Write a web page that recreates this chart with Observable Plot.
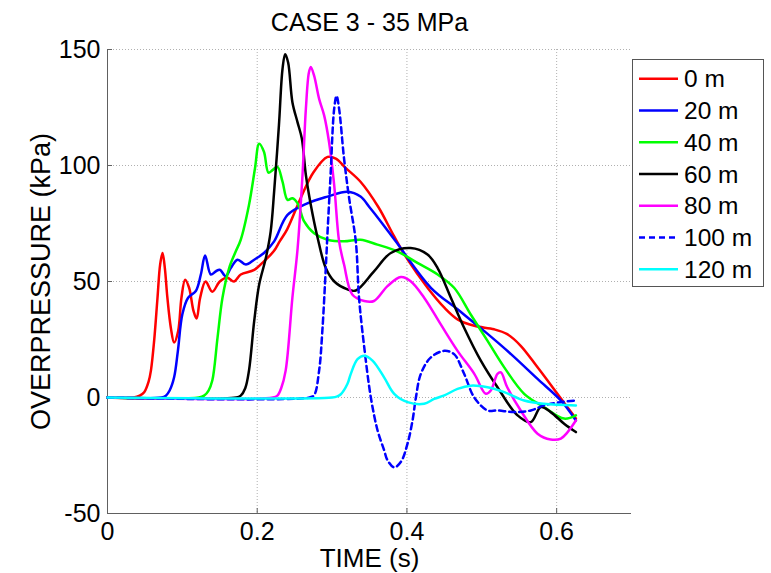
<!DOCTYPE html>
<html><head><meta charset="utf-8">
<script src="https://cdn.jsdelivr.net/npm/d3@7"></script>
<script src="https://cdn.jsdelivr.net/npm/@observablehq/plot@0.6"></script>
<style>
html,body{margin:0;padding:0;background:#fff}
#chart{position:relative;width:771px;height:573px}
</style>
</head><body><div id="chart"></div>
<script>
const titleText = "CASE 3 - 35 MPa";
const xLabel = "TIME (s)";
const yLabel = "OVERPRESSURE (kPa)";
const names = ["0 m","20 m","40 m","60 m","80 m","100 m","120 m"];
const colors = ["#ff0000","#0000ff","#00ff00","#000000","#ff00ff","#0000ff","#00ffff"];
const dashes = [null,null,null,null,null,"6,4",null];
const xTicks = [0,0.2,0.4,0.6];
const yTicks = [-50,0,50,100,150];

// [time (s), overpressure (kPa)]
const s0 = [[0,0],[0.035,0],[0.043,0.8],[0.049,2.3],[0.055,7],[0.058,11.6],[0.0623,24.4],[0.0668,43],[0.0703,57.3],[0.0735,62.3],[0.0766,55.8],[0.080,43],[0.0846,30.1],[0.089,23.7],[0.0944,28.7],[0.0988,43],[0.1037,50.8],[0.109,47.3],[0.1149,37.3],[0.119,34],[0.1238,43],[0.131,50],[0.140,45.6],[0.150,50],[0.160,51.6],[0.169,50],[0.178,53],[0.196,55],[0.209,58.7],[0.222,63],[0.230,67.3],[0.240,72.5],[0.258,85.9],[0.275,97],[0.294,103.7],[0.305,103],[0.318,99],[0.338,93],[0.362,82],[0.382,70],[0.401,59.4],[0.4275,47.3],[0.45,38.7],[0.4676,33.7],[0.49,30.9],[0.5165,29.4],[0.534,27.3],[0.552,22.3],[0.5745,13],[0.601,1.6],[0.6257,-9.1]];
const s20 = [[0,0],[0.072,0],[0.078,0.8],[0.083,3],[0.089,8.7],[0.094,20],[0.100,35.9],[0.1077,43],[0.118,45.9],[0.1247,53],[0.1304,61.2],[0.138,53],[0.1447,54.4],[0.150,55.1],[0.158,52.3],[0.1647,55.8],[0.1737,59.4],[0.1848,57.3],[0.196,59.4],[0.209,62.3],[0.2226,67.3],[0.2405,78.7],[0.267,83.7],[0.294,86.6],[0.3207,88.7],[0.338,86.6],[0.350,82],[0.365,75.9],[0.385,67.3],[0.432,47.3],[0.4676,38],[0.503,28.7],[0.539,18.7],[0.5745,8],[0.6056,-1.3],[0.6257,-9.9]];
const s40 = [[0,0],[0.122,0],[0.129,0.8],[0.135,3],[0.140,7.3],[0.147,25.8],[0.1536,43],[0.1625,55.8],[0.1714,63],[0.178,68],[0.189,83],[0.197,98.7],[0.2026,109.4],[0.209,105.9],[0.215,96.9],[0.2204,98],[0.227,99.4],[0.2338,93],[0.2405,85.2],[0.247,85.9],[0.254,83.7],[0.2627,75.9],[0.276,70.8],[0.294,68],[0.316,67.3],[0.338,68],[0.3607,65.9],[0.387,63],[0.414,58],[0.441,53],[0.463,47.3],[0.485,35.9],[0.5077,24.4],[0.53,13],[0.5566,1.6],[0.583,-4.1],[0.61,-9.1],[0.6257,-7.7]];
const s60 = [[0,0],[0.172,0],[0.178,0.8],[0.184,4],[0.189,11.6],[0.196,33],[0.2026,48.7],[0.2115,60.1],[0.218,71.6],[0.2226,88.7],[0.229,117.3],[0.2338,141.6],[0.2373,148],[0.2413,144.4],[0.247,127.3],[0.2538,118.7],[0.2596,111.6],[0.265,95.9],[0.2716,83],[0.2806,69],[0.2916,55.8],[0.303,50],[0.3206,46.6],[0.3317,46.1],[0.356,54.4],[0.3785,62.3],[0.405,64.4],[0.4275,61.6],[0.441,55.8],[0.4587,43],[0.4764,30.1],[0.4987,15.9],[0.521,4.4],[0.5478,-7.7],[0.5655,-10.6],[0.579,-4.1],[0.592,-6.3],[0.61,-11.3],[0.6257,-14.9]];
const s80 = [[0,0],[0.221,0],[0.227,0.8],[0.232,4],[0.238,11.6],[0.247,43],[0.254,64.4],[0.2605,95.9],[0.265,124.4],[0.269,140],[0.2716,142.5],[0.276,138.7],[0.2827,128.7],[0.2894,121.6],[0.296,110],[0.3028,91.6],[0.3094,67.3],[0.316,57.3],[0.327,44.4],[0.343,41.6],[0.356,41.6],[0.374,48],[0.392,51.9],[0.405,50.1],[0.423,43],[0.445,31.6],[0.4676,20.1],[0.49,10.2],[0.5054,1.6],[0.512,3],[0.521,10.2],[0.5255,10.8],[0.534,4.4],[0.552,-5.6],[0.5745,-15.6],[0.592,-18.1],[0.6056,-17.7],[0.6257,-9.9]];
const s100 = [[0,0],[0.27,0],[0.276,1],[0.2827,11.6],[0.287,28.7],[0.2916,55.8],[0.294,71.6],[0.298,95.9],[0.3028,124.4],[0.306,130],[0.3094,124.4],[0.316,103],[0.3228,85.9],[0.3317,67.3],[0.336,43],[0.343,21.6],[0.3518,0],[0.3607,-14.1],[0.3695,-22.7],[0.374,-27],[0.383,-30.1],[0.392,-27.7],[0.4008,-19.9],[0.4075,-9.9],[0.412,0],[0.4186,10.2],[0.432,17.3],[0.45,20.1],[0.463,18.7],[0.4764,10.2],[0.49,0],[0.5077,-5.6],[0.521,-5.6],[0.543,-6.3],[0.5655,-5.6],[0.583,-3.4],[0.6056,-2],[0.6257,-1.3]];
const s120 = [[0,0],[0.300,0],[0.307,0.5],[0.3117,1.4],[0.3206,5.9],[0.325,10.2],[0.334,16.5],[0.343,18],[0.354,15.9],[0.3695,8.7],[0.383,1.6],[0.4008,-2],[0.423,-2.7],[0.4364,-0.6],[0.45,0.9],[0.4676,3.7],[0.4854,5.1],[0.5077,4.4],[0.53,2.3],[0.5566,-1.3],[0.583,-2.7],[0.6257,-3.4]];

const series = [s0,s20,s40,s60,s80,s100,s120];
const font = "'Liberation Sans', Arial, Helvetica, sans-serif";
const axisColor = "#606060";
const gridStyle = {stroke:"#b0b0b0", strokeOpacity:1, strokeDasharray:"1,2", strokeWidth:1};

const lineMarks = series.map((s,i) => Plot.line(s, {
  x: d => d[0], y: d => d[1],
  stroke: colors[i], strokeWidth: 2.5,
  strokeDasharray: dashes[i] || undefined,
  curve: "catmull-rom"
}));

const chart = Plot.plot({
  width: 771, height: 573,
  marginLeft: 107, marginRight: 140, marginTop: 49, marginBottom: 60,
  style: {fontFamily: font, fontSize: "25px", background: "#fff", color: "#000", overflow: "visible"},
  x: {domain: [0, 0.7], label: null},
  y: {domain: [-50, 150], label: null},
  marks: [
    Plot.gridX(xTicks.filter(d => d > 0), gridStyle),
    Plot.gridY(yTicks.filter(d => d > -50), gridStyle),
    Plot.ruleX([0], {stroke: axisColor, strokeWidth: 1}),
    Plot.ruleY([-50], {stroke: axisColor, strokeWidth: 1}),
    Plot.axisX(xTicks, {tickSize: -5, tickPadding: 14, stroke: axisColor, fill: "#000", fontSize: 25, label: null, tickFormat: d => String(d)}),
    Plot.axisY(yTicks, {tickSize: -5, tickPadding: 12, stroke: axisColor, fill: "#000", fontSize: 25, label: null, tickFormat: d => String(d)}),
    ...lineMarks,
    Plot.text([titleText], {frameAnchor: "top", dy: -19, lineAnchor: "bottom", fontSize: 25, fill: "#000"}),
    Plot.text([xLabel], {frameAnchor: "bottom", dy: 53, lineAnchor: "bottom", fontSize: 26, fill: "#000"}),
    Plot.text([yLabel], {frameAnchor: "left", dx: -58, rotate: -90, textAnchor: "middle", lineAnchor: "bottom", fontSize: 27, fill: "#000"})
  ]
});
document.getElementById("chart").appendChild(chart);

// Legend
const svg = d3.select(chart);
const lg = svg.append("g").attr("font-family", font).attr("font-size", 24.5).attr("text-anchor", "start");
lg.append("rect").attr("x", 632.5).attr("y", 59.5).attr("width", 131).attr("height", 227)
  .attr("fill", "#fff").attr("stroke", "#555").attr("stroke-width", 1);
names.forEach((n, i) => {
  const cy = 78.8 + 31.75 * i;
  lg.append("line").attr("x1", 639).attr("x2", 678).attr("y1", cy).attr("y2", cy)
    .attr("stroke", colors[i]).attr("stroke-width", 2.5)
    .attr("stroke-dasharray", dashes[i]);
  lg.append("text").attr("x", 684).attr("y", cy).attr("dy", "0.35em").attr("fill", "#000")
    .attr("text-anchor", "start").text(n);
});
</script>
</body></html>
